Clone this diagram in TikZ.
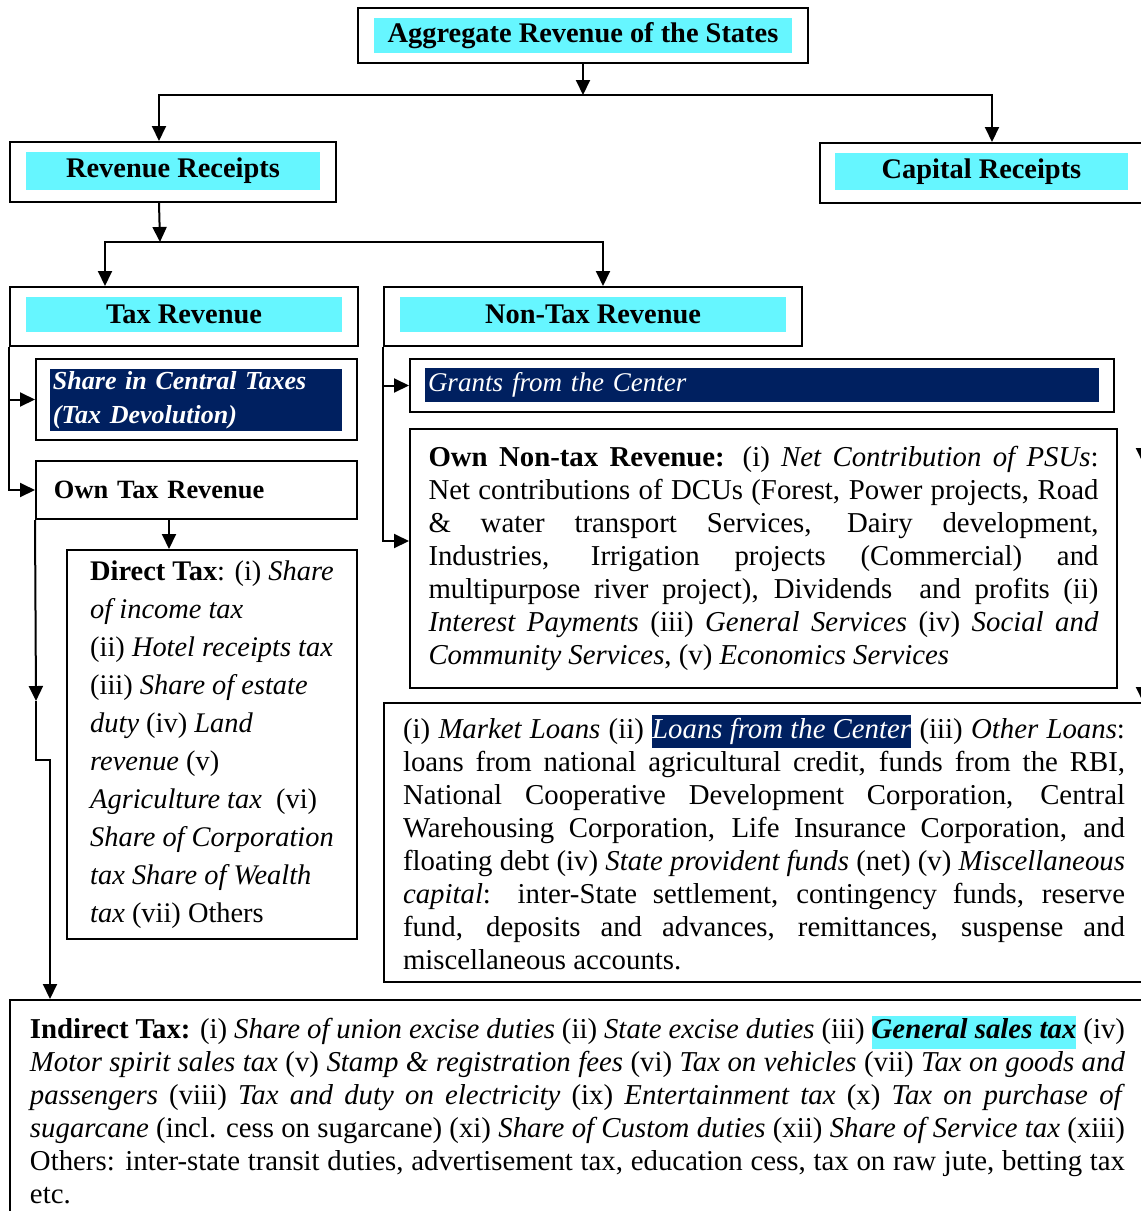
\documentclass[tikz,border=0pt]{standalone}
\usepackage{fontspec}
\setmainfont{Liberation Serif}
\usepackage[rgb]{xcolor}
\usepackage{tikz}
\usetikzlibrary{arrows.meta}

\definecolor{boxcyan}{RGB}{102,246,255}
\definecolor{boxnavy}{RGB}{0,32,96}
\newcommand{\hlcyan}[1]{{\setlength{\fboxsep}{0pt}\colorbox{boxcyan}{\strut #1}}}
\newcommand{\hlnavy}[1]{{\setlength{\fboxsep}{0pt}\colorbox{boxnavy}{\strut\color{white}#1}}}

\tikzset{
  outer/.style={draw=black, line width=1pt, inner sep=0pt},
  headfill/.style={fill=boxcyan, inner sep=0pt, font=\fontsize{14.2}{17}\selectfont\bfseries},
  navyfill/.style={fill=boxnavy, text=white, inner xsep=1.5pt, inner ysep=0pt, align=left},
  textbox/.style={draw=black, line width=1pt, inner ysep=0pt, align=justify,
    font=\fontsize{14.4}{16.5}\selectfont},
}

\begin{document}
\begin{tikzpicture}[x=0.5pt, y=-0.5pt, line width=1pt,
  >={Triangle[width=7pt,length=7.5pt]}]

\useasboundingbox (0,0) rectangle (1141,1211);

% heading boxes with cyan bands
\path
(583,35.5) node[outer, minimum width=225pt, minimum height=27.5pt] (agg) {}
(583,35.5) node[headfill, minimum width=209pt, minimum height=17.5pt] (aggfill) {Aggregate Revenue of the States}
(173,172) node[outer, minimum width=163pt, minimum height=30pt] (rev) {}
(173,171) node[headfill, minimum width=147pt, minimum height=19pt] (revfill) {Revenue Receipts}
(983,173) node[outer, minimum width=163pt, minimum height=30pt] (cap) {}
(981.5,171.5) node[headfill, minimum width=146.5pt, minimum height=18.5pt] (capfill) {Capital Receipts}
(184,316.5) node[outer, minimum width=174pt, minimum height=29.5pt] (tax) {}
(184,314.5) node[headfill, minimum width=158pt, minimum height=17.5pt] (taxfill) {Tax Revenue}
(593,316.5) node[outer, minimum width=209pt, minimum height=29.5pt] (nontax) {}
(593,314.5) node[headfill, minimum width=193pt, minimum height=17.5pt] (nontaxfill) {Non-Tax Revenue};

% tax side
\path
(196.5,399.5) node[outer, minimum width=160.5pt, minimum height=40.5pt] (share) {}
(196,400) node[navyfill, text width=143pt, minimum height=31pt,
  font=\fontsize{13}{17}\selectfont\bfseries\itshape] (sharefill)
  {Share in Central Taxes\\(Tax Devolution)}
(196.5,490) node[outer, minimum width=160.5pt, minimum height=29pt, inner xsep=9pt,
  text width=142.5pt, align=left, font=\fontsize{13.2}{16}\selectfont\bfseries] (owntax)
  {Own Tax Revenue}
(212,744.5) node[outer, minimum width=145pt, minimum height=194.5pt,
  align=left, font=\fontsize{14.2}{19}\selectfont] (direct)
  {\textbf{Direct Tax}: (i) \textit{Share}\\
   \textit{of income tax}\\
   (ii) \textit{Hotel receipts tax}\\
   (iii) \textit{Share of estate}\\
   \textit{duty} (iv) \textit{Land}\\
   \textit{revenue} (v)\\
   \textit{Agriculture tax}\ \ (vi)\\
   \textit{Share of Corporation}\\
   \textit{tax Share of Wealth}\\
   \textit{tax} (vii) Others};

% non-tax side
\path
(762,385.5) node[outer, minimum width=352pt, minimum height=26.5pt] (grants) {}
(762,385) node[navyfill, text width=334pt, minimum height=17pt,
  font=\fontsize{13.5}{16}\selectfont\itshape] (grantsfill) {Grants from the Center}
(763.5,558.5) node[textbox, minimum height=129.5pt, inner xsep=9.25pt, text width=335pt] (ownnt)
  {\textbf{Own Non-tax Revenue:} (i) \textit{Net Contribution of PSUs}:\linebreak
   Net contributions of DCUs (Forest, Power projects, Road\linebreak
   \& water transport Services, Dairy development,\linebreak
   Industries, Irrigation projects (Commercial) and\linebreak
   multipurpose river project), Dividends\ \ and profits (ii)\linebreak
   \textit{Interest Payments} (iii) \textit{General Services} (iv) \textit{Social and}\linebreak
   \textit{Community Services}, (v) \textit{Economics Services}}
(764,842.5) node[textbox, minimum height=139.5pt, inner xsep=9.5pt, text width=361pt] (loans)
  {(i) \textit{Market Loans} (ii) \hlnavy{\textit{Loans from the Center}} (iii) \textit{Other Loans}:\linebreak
   loans from national agricultural credit, funds from the RBI,\linebreak
   National Cooperative Development Corporation, Central\linebreak
   Warehousing Corporation, Life Insurance Corporation, and\linebreak
   floating debt (iv) \textit{State provident funds} (net) (v) \textit{Miscellaneous}\linebreak
   \textit{capital}: inter-State settlement, contingency funds, reserve\linebreak
   fund, deposits and advances, remittances, suspense and\linebreak
   miscellaneous accounts.};

% indirect tax along the bottom
\path
(577.5,1110) node[textbox, minimum height=110pt, inner xsep=10pt, text width=547.5pt] (indirect)
  {\textbf{Indirect Tax:} (i) \textit{Share of union excise duties} (ii) \textit{State excise duties} (iii) \hlcyan{\textbf{\textit{General sales tax}}} (iv)\linebreak
   \textit{Motor spirit sales tax} (v) \textit{Stamp \& registration fees} (vi) \textit{Tax on vehicles} (vii) \textit{Tax on goods and}\linebreak
   \textit{passengers} (viii) \textit{Tax and duty on electricity} (ix) \textit{Entertainment tax} (x) \textit{Tax on purchase of}\linebreak
   \textit{sugarcane} (incl. cess on sugarcane) (xi) \textit{Share of Custom duties} (xii) \textit{Share of Service tax} (xiii)\linebreak
   Others: inter-state transit duties, advertisement tax, education cess, tax on raw jute, betting tax\linebreak
   etc.};

% connectors
\coordinate (split1) at (585,95);
\coordinate (split2) at (160,242);
\draw[->] (agg.south) -- (agg.south |- split1);
\draw[->] (agg.south |- split1) -| ([xshift=75pt]rev.north west);
\draw[->] (agg.south |- split1) -| ([xshift=86.5pt]cap.north west);
\draw[->] ([xshift=75pt]rev.south west) -- (split2);
\draw[->] (split2) -| ([xshift=48pt]tax.north west);
\draw[->] (split2) -| ([xshift=110pt]nontax.north west);

\draw[->] (tax.south west) |- (share.west);
\draw[->] (tax.south west) |- (owntax.west);
\draw[->] ([xshift=67pt]owntax.south west) -- ([xshift=51.5pt]direct.north west);

\coordinate (indmid) at (36,701);
\coordinate (indbend) at (36,760);
\coordinate (indbend2) at (50,760);
\draw[->] (owntax.south west) -- (indmid);
\draw[->] (indmid) -- (indbend) -- (indbend2) -- (indbend2 |- indirect.north);

\draw[->] (nontax.south west) |- (grants.west);
\draw[->] (nontax.south west) |- ([yshift=8.75pt]ownnt.west);

% line along the right edge, only the tips show
\coordinate (capdrop) at (1143,203);
\coordinate (capmid) at (1143,463);
\draw[->] (capdrop) -- (capmid);
\draw[->] (capmid) -- (capmid |- loans.north);

\end{tikzpicture}
\end{document}
